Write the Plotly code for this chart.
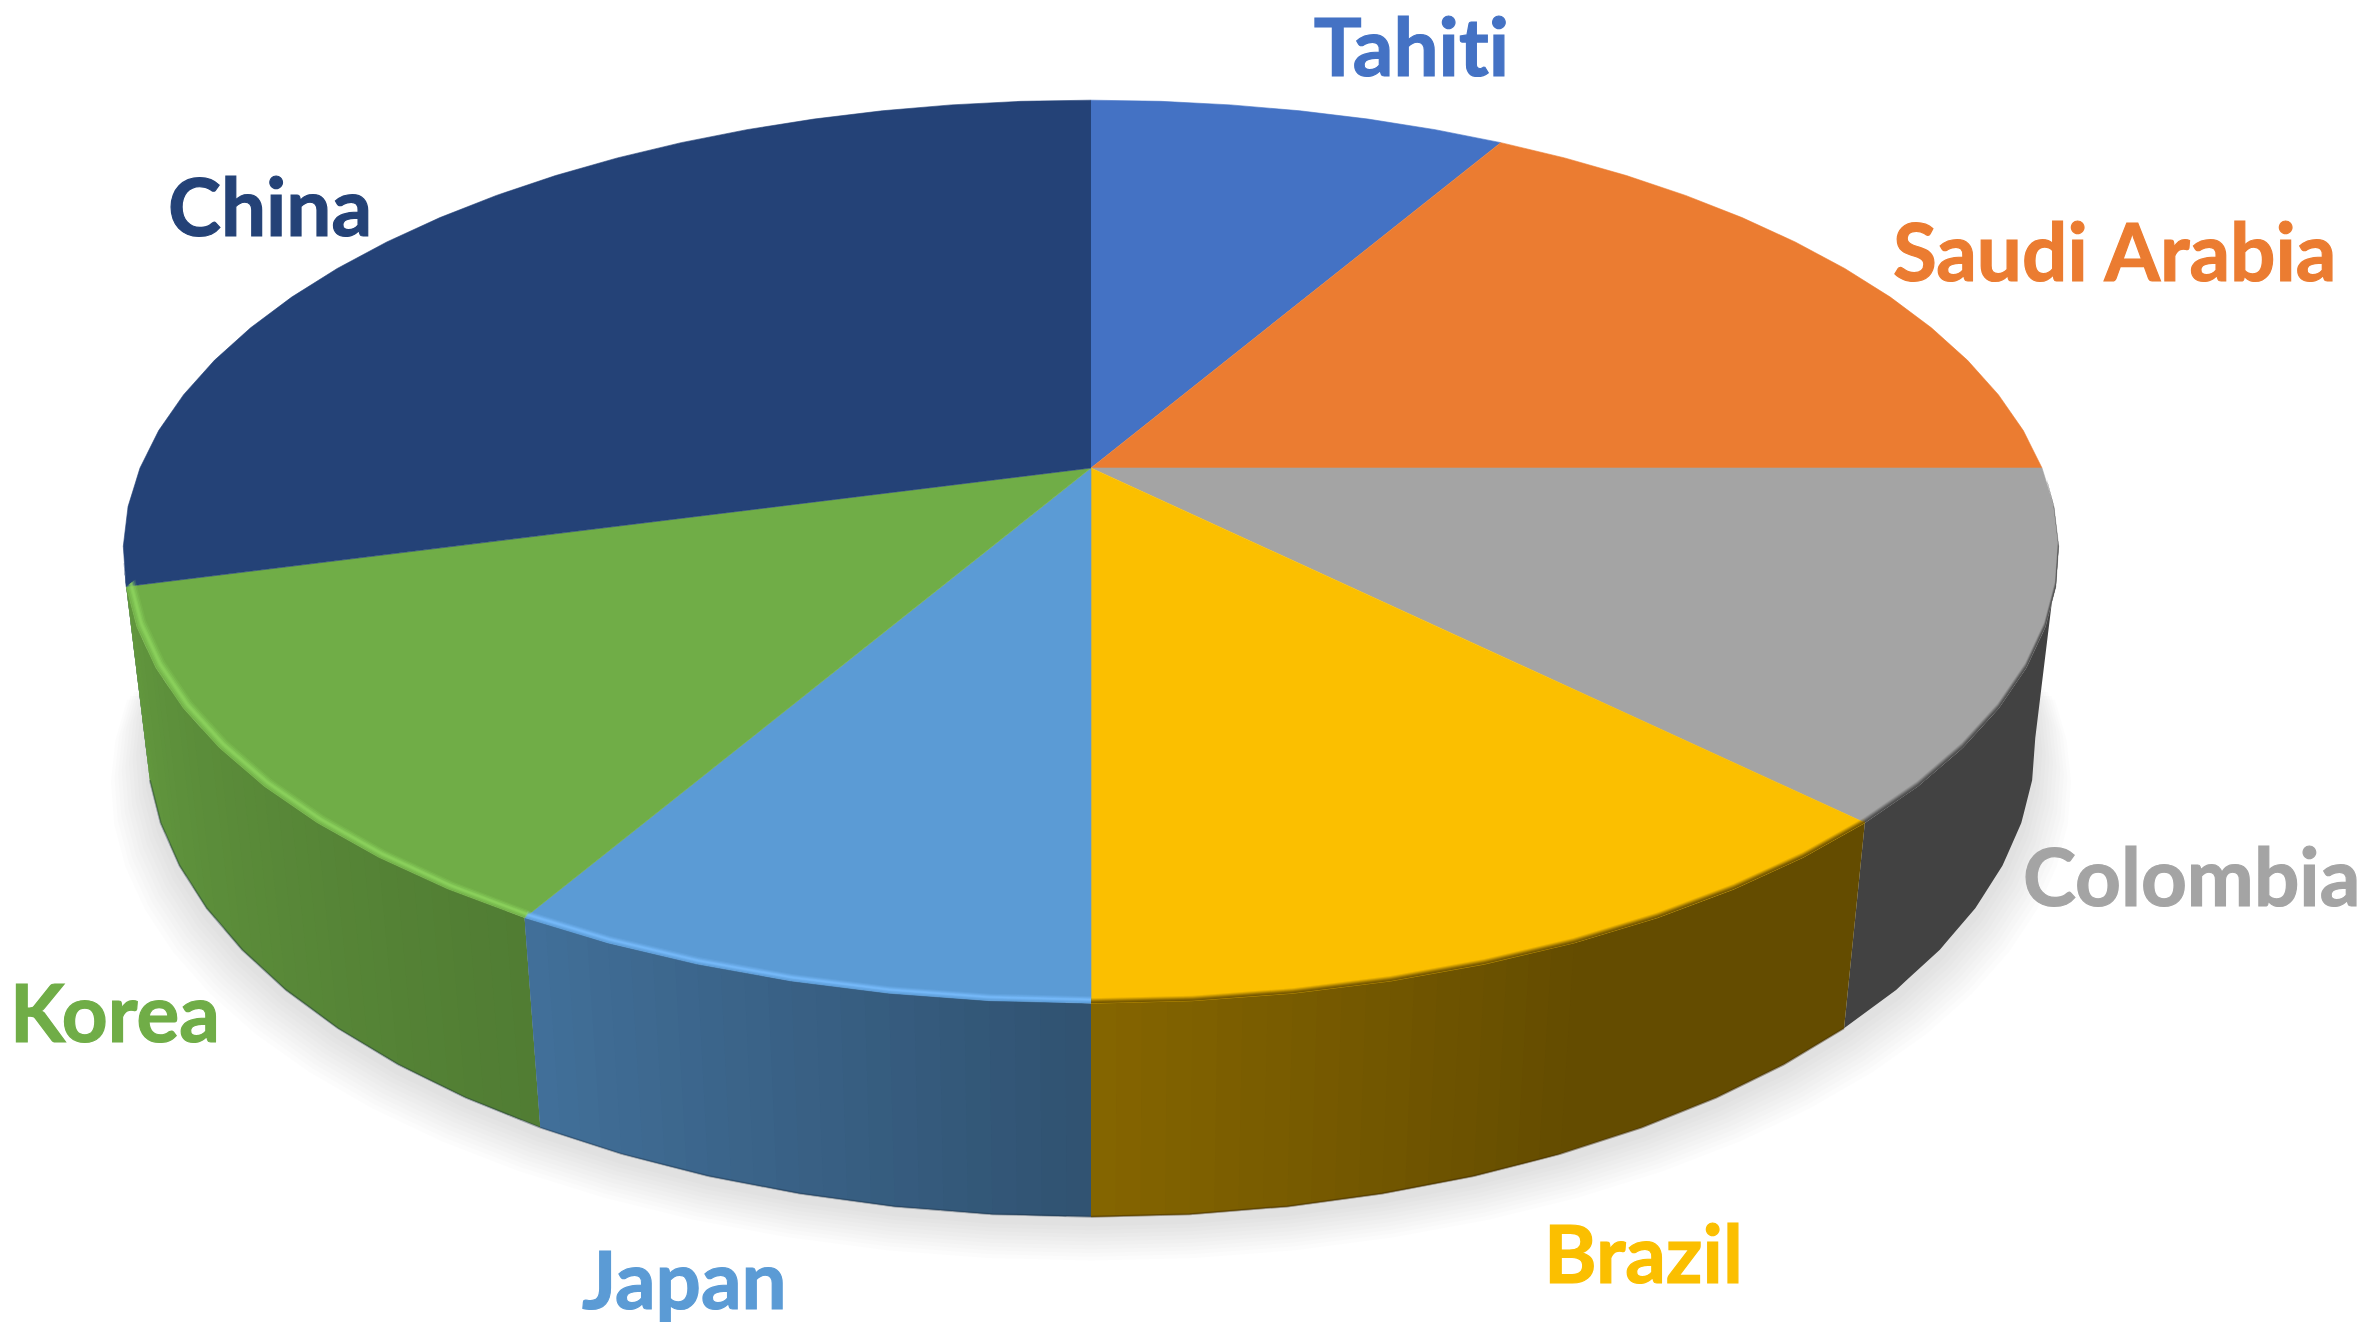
import numpy as np
import plotly.graph_objects as go

# ---- data ----
CATEGORIES = ["Tahiti", "Saudi Arabia", "Colombia", "Brazil", "Japan", "Korea", "China"]
VALUES = [30, 60, 45, 45, 30, 45, 105]
COLORS = ["#4472C4", "#EB7C31", "#A4A4A4", "#FBBF00", "#5B9BD5", "#70AD47", "#244277"]

# ---- styling / camera ----
W, H = 2366, 1322
CX, CY = 1091, 468          # screen position of the pie centre
A, B = 951, 436             # horizontal / vertical projection scale
K = 0.1853                  # perspective strength
M, N = 0.024, 192           # depth and height term of the pie's underside
FACET = 5                   # the pie's rim is made of straight 5 degree facets
SHADE_ANGLE = [90, 155, 180, 210, 255, 270]
SHADE_VALUE = [0.40, 0.40, 0.53, 0.72, 0.875, 0.90]
# bevel along the front edge: rgb, inward shift in x and y (pixels)
BEVEL = {
    "Korea": ("143,214,95", 9, 7),
    "Japan": ("122,190,255", 5, 7),
    "Brazil": ("101,75,0", 1, 5),
    "Colombia": ("66,66,66", 1, 5),
}
LIGHT_LAYERS = [(0.0, 1.0, 0.18), (0.15, 0.85, 0.3), (0.3, 0.7, 0.45), (0.4, 0.6, 0.5)]
DARK_LAYERS = [(0.0, 1.0, 0.15), (0.0, 0.8, 0.25), (0.0, 0.6, 0.35), (0.0, 0.4, 0.45), (0.0, 0.2, 0.5)]
LABEL_POS = {
    "Tahiti": (1411, 45), "Saudi Arabia": (2114, 250), "Colombia": (2191, 875),
    "Brazil": (1643, 1252), "Japan": (684, 1278), "Korea": (115, 1011), "China": (270, 205),
}
FONT = "Lato"
FONT_SIZE = 80


def project(theta, r=1.0, h=0.0):
    """theta in degrees clockwise from the back of the pie; h=1 is the underside."""
    t = np.radians(theta)
    u, v = r * np.sin(t), -r * np.cos(t)
    w = 1 - K * v + M * h
    return CX + A * u / w, CY + (B * v + N * h) / w


def facet_angles(a, b):
    inner = np.arange(np.floor(a / FACET + 1) * FACET, b - 1e-6, FACET)
    return np.concatenate([[a], inner, [b]])


def rim(a, b, r=1.0, h=0.0):
    ang = facet_angles(a, b)
    return project(ang, r, h)


def shade(color, f):
    rgb = [int(color[i:i + 2], 16) for i in (1, 3, 5)]
    return "rgb(%d,%d,%d)" % tuple(round(c * f) for c in rgb)


fig = go.Figure()


def poly(x, y, fill, line=None, lw=0):
    fig.add_trace(go.Scatter(
        x=list(x), y=list(y), mode="lines", fill="toself", fillcolor=fill,
        line=dict(color=line or fill, width=lw), hoverinfo="skip", showlegend=False))


def path(x, y, color, lw):
    fig.add_trace(go.Scatter(
        x=list(x), y=list(y), mode="lines", line=dict(color=color, width=lw),
        hoverinfo="skip", showlegend=False))


ends = np.cumsum(VALUES) / np.sum(VALUES) * 360
starts = np.concatenate([[0], ends[:-1]])

# soft shadow under the pie
ax, ay = rim(90, 270, 1.0, 1.0)
for d in np.arange(40, 0, -4):
    sx = CX + (ax - CX) * (1 + d / 1050)
    sy = ay + d * 0.95 + 6
    poly(sx, sy, "rgba(0,0,0,0.012)")

# side wall: facets are split into strips; strips of one shade are merged
for name, col, s, e in sorted(zip(CATEGORIES, COLORS, starts, ends), key=lambda t: -abs(180 - (t[2] + t[3]) / 2)):
    lo, hi = max(s, 100), min(e, 258)
    if hi <= lo:
        continue
    strips = []
    ang = facet_angles(lo, hi)
    for a0, a1 in zip(ang[:-1], ang[1:]):
        tx0, ty0 = project(a0)
        tx1, ty1 = project(a1)
        bx0, by0 = project(a0, 1, 1)
        bx1, by1 = project(a1, 1, 1)
        n = max(1, int(round((a1 - a0) / 1.25)))
        for i in range(n):
            p, q = i / n, (i + 1) / n
            mid = a0 + (a1 - a0) * (p + q) / 2
            c = shade(col, float(np.interp(mid, SHADE_ANGLE, SHADE_VALUE)))
            strips.append((c,
                           (tx0 + (tx1 - tx0) * p, ty0 + (ty1 - ty0) * p),
                           (tx0 + (tx1 - tx0) * q, ty0 + (ty1 - ty0) * q),
                           (bx0 + (bx1 - bx0) * p, by0 + (by1 - by0) * p),
                           (bx0 + (bx1 - bx0) * q, by0 + (by1 - by0) * q)))
    i = 0
    while i < len(strips):
        j = i
        while j + 1 < len(strips) and strips[j + 1][0] == strips[i][0]:
            j += 1
        # extend one strip further so that each strip overlaps the next one
        k = min(j + 1, len(strips) - 1)
        top = [strips[i][1]] + [st[2] for st in strips[i:k + 1]]
        bot = [strips[i][3]] + [st[4] for st in strips[i:k + 1]]
        pts = top + bot[::-1]
        poly([pt[0] for pt in pts], [pt[1] for pt in pts], strips[i][0])
        i = j + 1

# thin dark seam along the lower rim
bx, by = rim(180, 255, 1.0, 1.0)
path(bx, by, "rgba(20,40,60,0.35)", 2)
bx, by = rim(135, 180, 1.0, 1.0)
path(bx, by, "rgba(60,40,0,0.45)", 2)

# top face
for col, s, e in zip(COLORS, starts, ends):
    x, y = rim(s, e)
    poly([CX, *x], [CY, *y], col, col, 0.6)

# bevel along the front of the top face
for name, s, e in zip(CATEGORIES, starts, ends):
    if name not in BEVEL:
        continue
    rgb, dx, dy = BEVEL[name]
    lo, hi = max(s, 92), min(e, 257)
    x, y = rim(lo, hi)
    step = -np.sign(x - CX) * np.abs(x - CX) / A * dx
    layers = LIGHT_LAYERS if rgb in ("143,214,95", "122,190,255") else DARK_LAYERS
    for f0, f1, al in layers:
        x0, y0 = x + step * f0, y - dy * f0
        x1, y1 = x + step * f1, y - dy * f1
        poly([*x0, *x1[::-1]], [*y0, *y1[::-1]], "rgba(%s,%g)" % (rgb, al))

# category labels
for name, col in zip(CATEGORIES, COLORS):
    px, py = LABEL_POS[name]
    fig.add_annotation(x=px, y=py, text="<b>%s</b>" % name, showarrow=False,
                       font=dict(family=FONT, size=FONT_SIZE, color=col),
                       xanchor="center", yanchor="middle")

fig.update_layout(
    width=W, height=H, margin=dict(l=0, r=0, t=0, b=0),
    paper_bgcolor="white", plot_bgcolor="white", showlegend=False,
    xaxis=dict(range=[0, W], visible=False, fixedrange=True),
    yaxis=dict(range=[H, 0], visible=False, fixedrange=True),
)
POST = """
document.body.style.margin='0';
document.body.style.overflow='hidden';
document.querySelectorAll('.annotation-text').forEach(function(t){
  t.style.stroke=t.style.fill; t.style.strokeWidth='1.2px';
  t.style.fontVariantLigatures='none'; t.style.letterSpacing='0.02px';
});
"""
fig.write_html("out.html", config=dict(displayModeBar=False), post_script=POST)
